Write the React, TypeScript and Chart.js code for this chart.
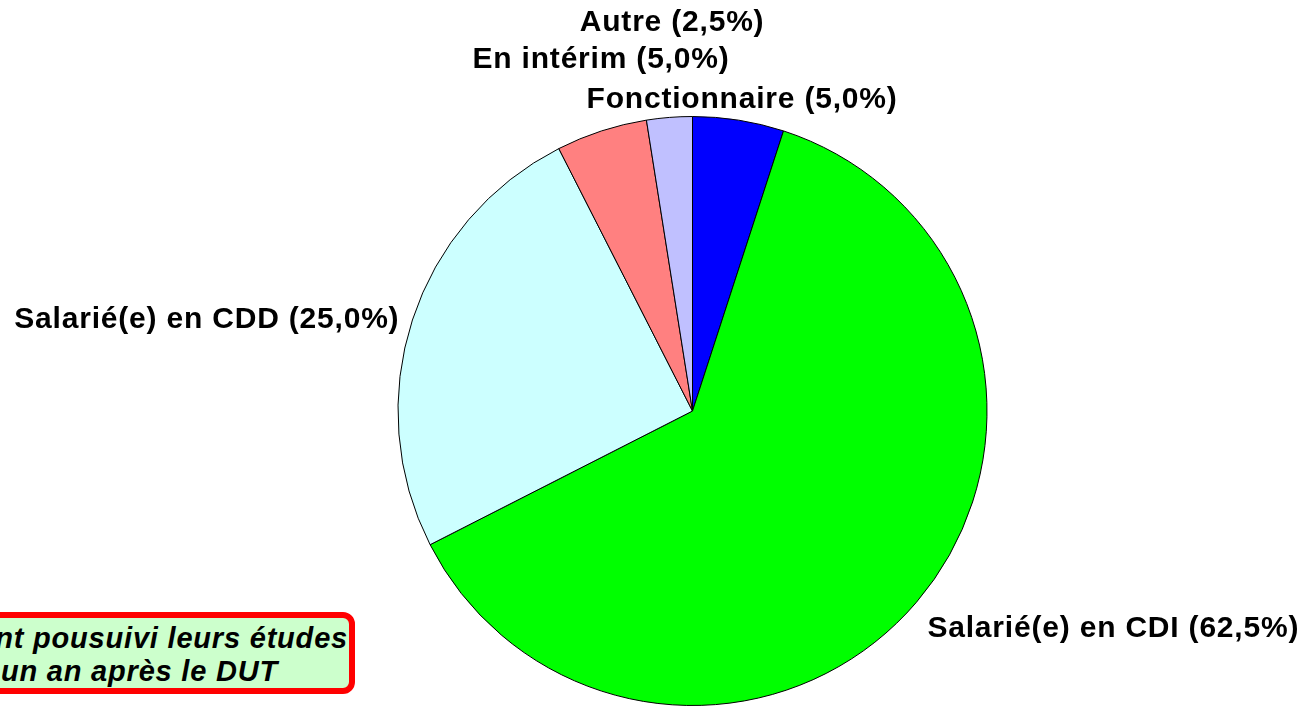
import React, { useEffect, useRef } from "react";
import { Chart, registerables } from "chart.js";

Chart.register(...registerables);

// ---- data ----
const categories = [
  "Fonctionnaire",
  "Salarié(e) en CDI",
  "Salarié(e) en CDD",
  "En intérim",
  "Autre",
];
const shares = [5.0, 62.5, 25.0, 5.0, 2.5];
const sliceColors = ["#0000FF", "#00FF00", "#CCFFFF", "#FF8080", "#C0C0FF"];
const noteLines = ["nt pousuivi leurs études", "un an après le DUT"];

const fmt = (v: number) => v.toFixed(1).replace(".", ",");

// label placement relative to each slice's outer mid-point (layout, not data)
const labelLayout = [
  { align: "left", dx: -152, dy: -12 },
  { align: "left", dx: 11, dy: 35 },
  { align: "right", dx: -13, dy: 8 },
  { align: "right", dx: 128, dy: -63 },
  { align: "right", dx: 95, dy: -86 },
];

const labelPlugin = {
  id: "outerLabels",
  afterDatasetsDraw(chart: any) {
    const ctx = chart.ctx as CanvasRenderingContext2D;
    const meta = chart.getDatasetMeta(0);
    const data = chart.data.datasets[0].data as number[];
    const labels = chart.data.labels as string[];
    ctx.save();
    ctx.font = 'bold 30px "Liberation Sans", Arial, sans-serif';
    (ctx as any).letterSpacing = "0.8px";
    ctx.fillStyle = "#000000";
    ctx.textBaseline = "alphabetic";
    meta.data.forEach((arc: any, i: number) => {
      const p = arc.getProps(["x", "y", "startAngle", "endAngle", "outerRadius"], true);
      const mid = (p.startAngle + p.endAngle) / 2;
      const ex = p.x + Math.cos(mid) * p.outerRadius;
      const ey = p.y + Math.sin(mid) * p.outerRadius;
      const lay = labelLayout[i];
      const text = `${labels[i]} (${fmt(data[i])}%)`;
      ctx.textAlign = lay.align as CanvasTextAlign;
      ctx.fillText(text, ex + lay.dx, ey + lay.dy);
    });
    ctx.restore();
  },
};

export default function App() {
  const ref = useRef<HTMLCanvasElement | null>(null);

  useEffect(() => {
    if (!ref.current) return;
    const chart = new Chart(ref.current, {
      type: "pie",
      data: {
        labels: categories,
        datasets: [
          {
            data: shares,
            backgroundColor: sliceColors,
            borderColor: "#000000",
            borderWidth: 1,
          },
        ],
      },
      options: {
        animation: false,
        responsive: true,
        maintainAspectRatio: false,
        layout: { padding: { top: 116, bottom: 1, left: 72, right: 0 } },
        plugins: {
          legend: { display: false },
          tooltip: { enabled: false },
        },
      },
      plugins: [labelPlugin],
    });
    return () => chart.destroy();
  }, []);

  const lineStyle: React.CSSProperties = {
    position: "absolute",
    whiteSpace: "nowrap",
    font: 'italic bold 29px "Liberation Sans", Arial, sans-serif',
    letterSpacing: "0.8px",
    color: "#000",
    lineHeight: "34px",
  };

  return (
    <div
      style={{
        position: "fixed",
        left: 0,
        top: 0,
        width: 1313,
        height: 707,
        background: "#ffffff",
        overflow: "hidden",
      }}
    >
      <canvas ref={ref} />
      <div
        style={{
          position: "absolute",
          left: -40,
          top: 612,
          width: 383,
          height: 70,
          border: "6px solid #FF0000",
          borderRadius: 12,
          background: "#CCFFCC",
          overflow: "hidden",
        }}
      >
        <div style={{ ...lineStyle, right: 1, top: 3 }}>{noteLines[0]}</div>
        <div style={{ ...lineStyle, right: 71, top: 36 }}>{noteLines[1]}</div>
      </div>
    </div>
  );
}
